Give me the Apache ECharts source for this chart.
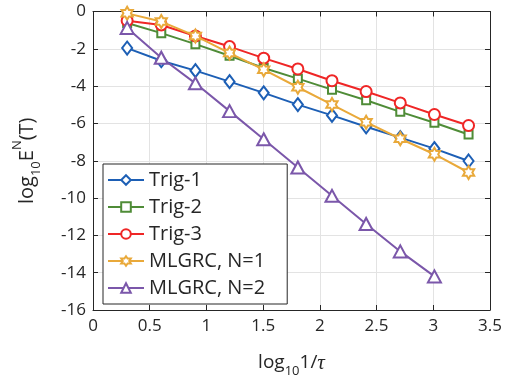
<!DOCTYPE html>
<html>
<head>
<meta charset="utf-8">
<script src="https://cdn.jsdelivr.net/npm/echarts@6/dist/echarts.min.js"></script>
<style>
html,body{margin:0;padding:0;background:#fff;}
#c{width:505px;height:383px;}
</style>
</head>
<body>
<div id="c"></div>
<script>
var xVals = [0.301, 0.602, 0.903, 1.204, 1.505, 1.806, 2.107, 2.408, 2.709, 3.010, 3.311];
var trig1 = [-1.96, -2.64, -3.17, -3.76, -4.36, -4.99, -5.57, -6.18, -6.76, -7.35, -8.01];
var trig2 = [-0.62, -1.16, -1.75, -2.37, -3.03, -3.60, -4.19, -4.76, -5.38, -5.96, -6.59];
var trig3 = [-0.49, -0.72, -1.31, -1.88, -2.50, -3.08, -3.71, -4.29, -4.90, -5.52, -6.11];
var mlgrc1 = [-0.10, -0.54, -1.31, -2.23, -3.12, -4.06, -4.99, -5.93, -6.82, -7.65, -8.63];
var mlgrc2 = [-0.88, -2.48, -3.85, -5.34, -6.85, -8.36, -9.88, -11.39, -12.86, -14.20];
var seriesNames = ['Trig-1', 'Trig-2', 'Trig-3', 'MLGRC, N=1', 'MLGRC, N=2'];

function pairs(ys) { return ys.map(function (y, i) { return [xVals[i], y]; }); }

var FONT = '"Open Sans", "Noto Sans", sans-serif';
var TXT = '#262626';
var hexagram = 'path://M10,0 L12.887,5 L18.66,5 L15.774,10 L18.66,15 L12.887,15 L10,20 L7.113,15 L1.34,15 L4.226,10 L1.34,5 L7.113,5 Z';

var defs = [
  {data: trig1, color: '#1d5fb5', symbol: 'diamond', size: [10, 13]},
  {data: trig2, color: '#4f8c37', symbol: 'rect', size: 8},
  {data: trig3, color: '#ef2626', symbol: 'circle', size: 11},
  {data: mlgrc1, color: '#e9a93a', symbol: hexagram, size: 13},
  {data: mlgrc2, color: '#7b57aa', symbol: 'triangle', size: [13, 12]}
];

var series = defs.map(function (d, i) {
  return {
    name: seriesNames[i],
    type: 'line',
    data: pairs(d.data),
    symbol: d.symbol,
    symbolSize: d.size,
    symbolKeepAspect: true,
    showAllSymbol: true,
    lineStyle: {color: d.color, width: 2},
    itemStyle: {color: '#fff', borderColor: d.color, borderWidth: 2},
    z: 3 + i,
    animation: false
  };
});

var chart = echarts.init(document.getElementById('c'), null, {renderer: 'canvas'});
chart.setOption({
  animation: false,
  backgroundColor: '#fff',
  grid: {left: 93, right: 15, top: 11.5, bottom: 71.5, containLabel: false},
  xAxis: [{
    type: 'value', min: 0, max: 3.5, interval: 0.5,
    axisLine: {onZero: false, lineStyle: {color: TXT, width: 1}},
    axisTick: {inside: true, length: 5, lineStyle: {color: TXT}},
    axisLabel: {color: TXT, fontFamily: FONT, fontSize: 17, margin: 8},
    splitLine: {show: true, lineStyle: {color: '#e3e3e3', width: 1}},
    name: '{a|log}{s|10}{a|1/}{t|τ}',
    nameLocation: 'middle', nameGap: 38,
    nameTextStyle: {
      rich: {
        a: {fontFamily: FONT, fontSize: 19, color: TXT, lineHeight: 30, verticalAlign: 'middle'},
        s: {fontFamily: FONT, fontSize: 13, color: TXT, lineHeight: 30, verticalAlign: 'bottom'},
        t: {fontFamily: '"Liberation Serif", serif', fontStyle: 'italic', fontSize: 21, color: TXT, lineHeight: 30, verticalAlign: 'middle'}
      }
    }
  }, {
    type: 'value', min: 0, max: 3.5, interval: 0.5, position: 'top',
    axisLine: {onZero: false, lineStyle: {color: TXT, width: 1}},
    axisTick: {inside: true, length: 5, lineStyle: {color: TXT}},
    axisLabel: {show: false}, splitLine: {show: false}
  }],
  yAxis: [{
    type: 'value', min: -16, max: 0, interval: 2,
    axisLine: {onZero: false, show: true, lineStyle: {color: TXT, width: 1}},
    axisTick: {show: true, inside: true, length: 5, lineStyle: {color: TXT}},
    axisLabel: {color: TXT, fontFamily: FONT, fontSize: 17, margin: 7},
    splitLine: {show: true, lineStyle: {color: '#e3e3e3', width: 1}},
    name: '{a|log}{s|10}{a|E}{p|N}{a|(T)}',
    nameLocation: 'middle', nameGap: 50, nameRotate: 90,
    nameTextStyle: {
      rich: {
        a: {fontFamily: FONT, fontSize: 20, color: TXT, lineHeight: 32, verticalAlign: 'middle'},
        s: {fontFamily: FONT, fontSize: 13, color: TXT, lineHeight: 32, verticalAlign: 'bottom'},
        p: {fontFamily: FONT, fontSize: 13, color: TXT, lineHeight: 32, verticalAlign: 'top'}
      }
    }
  }, {
    type: 'value', min: -16, max: 0, interval: 2, position: 'right',
    axisLine: {onZero: false, show: true, lineStyle: {color: TXT, width: 1}},
    axisTick: {show: true, inside: true, length: 5, lineStyle: {color: TXT}},
    axisLabel: {show: false}, splitLine: {show: false}
  }],
  legend: {
    orient: 'vertical',
    left: 103, top: 164,
    data: seriesNames,
    itemWidth: 36, itemHeight: 12, itemGap: 7,
    padding: [6, 22, 6, 4],
    backgroundColor: '#fff',
    borderColor: '#262626', borderWidth: 1,
    textStyle: {color: TXT, fontFamily: FONT, fontSize: 20},
    z: 20
  },
  series: series
});
</script>
</body>
</html>
